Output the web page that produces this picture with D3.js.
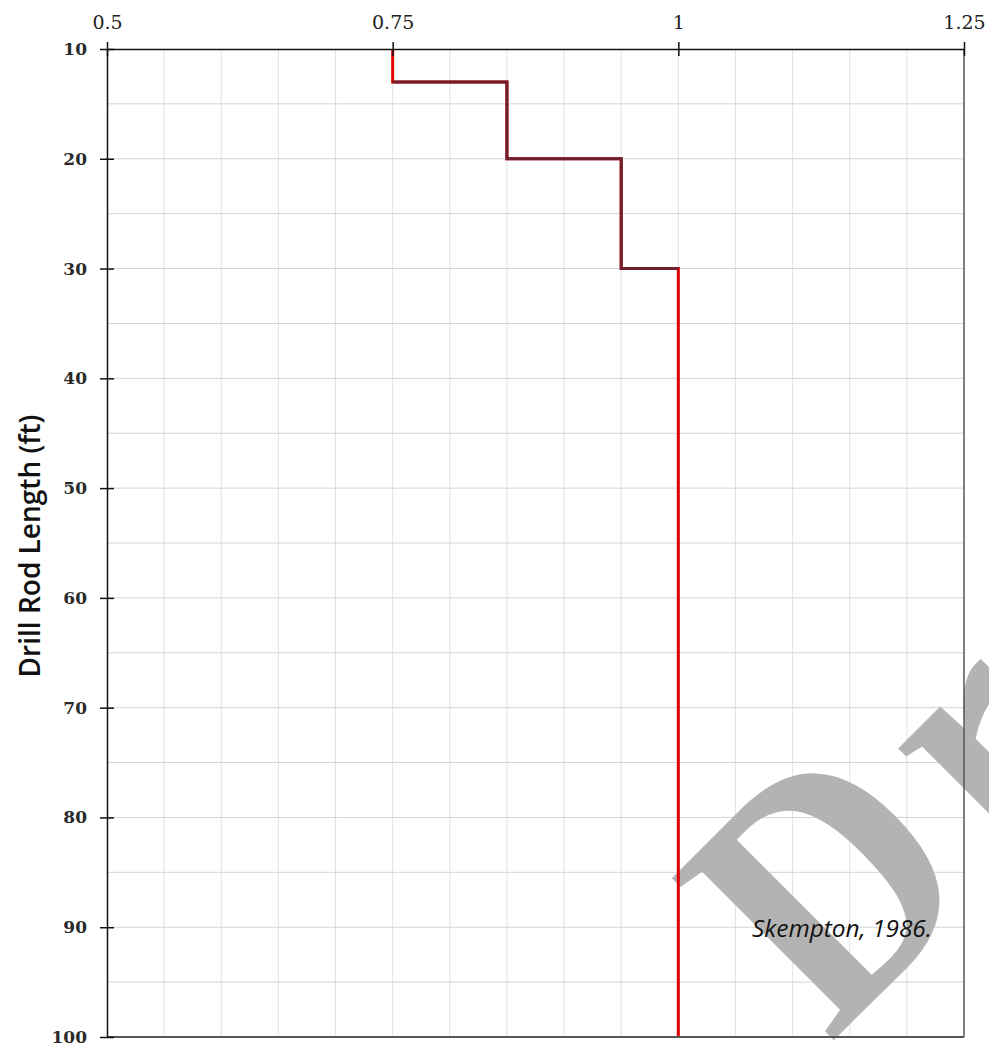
<!DOCTYPE html>
<html>
<head>
<meta charset="utf-8">
<script src="https://cdn.jsdelivr.net/npm/d3@7"></script>
<style>
  body { margin: 0; background: #fff; }
</style>
</head>
<body>
<svg id="chart" width="989" height="1047"></svg>
<script>
"use strict";

// Skempton (1986) rod length correction
const rodLength = [10, 13, 20, 30, 100];      // ft, step boundaries
const correction = [0.75, 0.85, 0.95, 1.0];   // factor for each interval
const xTicks = [0.5, 0.75, 1, 1.25];
const yTicks = [10, 20, 30, 40, 50, 60, 70, 80, 90, 100];

const width = 989;
const height = 1047;
const margin = { top: 49, right: 25, bottom: 10, left: 107 };

const x = d3.scaleLinear().domain([0.5, 1.25]).range([margin.left, width - margin.right]);
const y = d3.scaleLinear().domain([10, 100]).range([margin.top, height - margin.bottom]);

const svg = d3.select("#chart");

// step points
const steps = [];
correction.forEach((c, i) => {
  steps.push([c, rodLength[i]]);
  steps.push([c, rodLength[i + 1]]);
});

// gridlines
const grid = svg.append("g");
grid.selectAll("line.v")
  .data(d3.range(0.55, 1.249, 0.05))
  .join("line")
  .attr("x1", d => x(d)).attr("x2", d => x(d))
  .attr("y1", y(10)).attr("y2", y(100))
  .attr("stroke", "#e2e2e2");
grid.selectAll("line.h")
  .data(d3.range(15, 99, 5))
  .join("line")
  .attr("x1", x(0.5)).attr("x2", x(1.25))
  .attr("y1", d => y(d)).attr("y2", d => y(d))
  .attr("stroke", "#d4d4d4");

// watermark (cut off at the right edge, as in the original)
svg.append("text")
  .attr("transform", "translate(830,1044) rotate(-45) scale(0.88,1)")
  .style("font-family", "'Liberation Serif', serif")
  .style("font-weight", "bold")
  .style("font-size", "350px")
  .style("letter-spacing", "30px")
  .attr("fill", "#b3b3b3")
  .text("Dr");

const line = d3.line().x(d => x(d[0])).y(d => y(d[1]));

svg.append("path")
  .datum(steps)
  .attr("d", line)
  .attr("fill", "none")
  .attr("stroke", "#e00000")
  .attr("stroke-width", 3);

svg.append("path")
  .datum(steps.slice(1, -1))
  .attr("d", line)
  .attr("fill", "none")
  .attr("stroke", "#6e1f2c")
  .attr("stroke-width", 3);

// frame
svg.append("line")
  .attr("x1", x(1.25)).attr("x2", x(1.25))
  .attr("y1", y(10)).attr("y2", y(100))
  .attr("stroke", "#555").attr("stroke-width", 1.5);
svg.append("line")
  .attr("x1", x(0.5)).attr("x2", x(1.25))
  .attr("y1", y(100)).attr("y2", y(100))
  .attr("stroke", "#555").attr("stroke-width", 2);

// axes
const xAxis = svg.append("g")
  .attr("transform", `translate(0,${y(10)})`)
  .call(d3.axisTop(x).tickValues(xTicks).tickFormat(d3.format("")).tickSizeInner(7).tickSizeOuter(0));
xAxis.select(".domain").attr("stroke", "#111").attr("stroke-width", 1.5);
xAxis.selectAll(".tick line").attr("y2", 7).attr("y1", -7).attr("stroke", "#111").attr("stroke-width", 1.5);
xAxis.selectAll(".tick text")
  .attr("y", -20)
  .style("font-family", "'DejaVu Serif', serif")
  .style("font-size", "19px")
  .attr("fill", "#222");

const yAxis = svg.append("g")
  .attr("transform", `translate(${x(0.5)},0)`)
  .call(d3.axisLeft(y).tickValues(yTicks).tickSizeInner(7).tickSizeOuter(0));
yAxis.select(".domain").attr("stroke", "#111").attr("stroke-width", 1.5);
yAxis.selectAll(".tick line").attr("x1", 7).attr("x2", -7).attr("stroke", "#111").attr("stroke-width", 1.5);
yAxis.selectAll(".tick text")
  .attr("x", -20)
  .style("font-family", "'DejaVu Serif', serif")
  .style("font-weight", "bold")
  .style("font-size", "17px")
  .attr("fill", "#2a2a2a");

// axis title
const title = svg.append("text")
  .attr("transform", "translate(40,546) rotate(-90)")
  .attr("text-anchor", "middle")
  .style("font-family", "'Open Sans', sans-serif")
  .style("font-weight", "600")
  .style("font-size", "26px")
  .attr("fill", "#111")
  .text("Drill Rod Length (ft)");
const tl = title.node().getComputedTextLength();
title.style("font-size", (26 * 263 / tl) + "px");

// source note
const note = svg.append("text")
  .attr("x", 752).attr("y", 937)
  .style("font-family", "'Open Sans', sans-serif")
  .style("font-style", "italic")
  .style("font-size", "22px")
  .attr("fill", "#111")
  .text("Skempton, 1986.");
const nl = note.node().getComputedTextLength();
note.style("font-size", (22 * 180 / nl) + "px");
</script>
</body>
</html>
